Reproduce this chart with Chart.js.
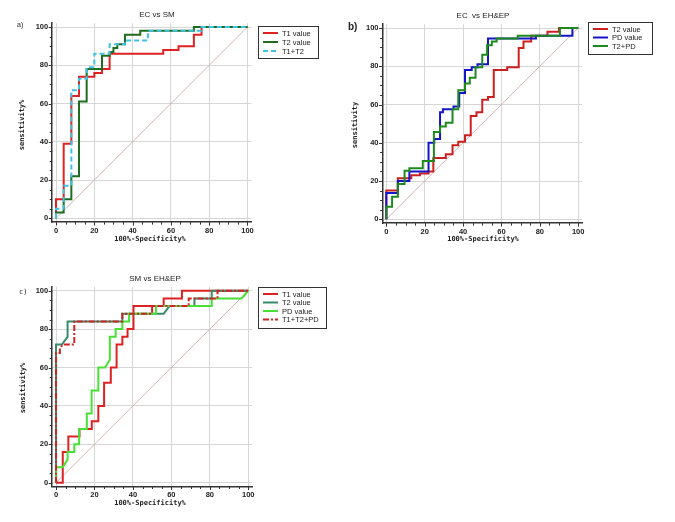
<!DOCTYPE html>
<html><head><meta charset="utf-8">
<script src="https://cdn.jsdelivr.net/npm/chart.js@4/dist/chart.umd.min.js"></script>
<style>
html,body{margin:0;padding:0;background:#fff;width:675px;height:522px;overflow:hidden;}
canvas{position:absolute;}
</style></head><body>
<canvas id="ca" width="340" height="250" style="left:0;top:0"></canvas>
<canvas id="cb" width="335" height="250" style="left:340px;top:0"></canvas>
<canvas id="cc" width="340" height="267" style="left:0;top:255px"></canvas>
<script>
// ---------- shared ----------
const axisTicks = [0, 20, 40, 60, 80, 100];
const diagX = [0, 100];
const diagY = [0, 100];
const xAxisTitle = '100%-Specificity%';

// ---------- panel a: EC vs SM ----------
const aTitle = 'EC vs SM';
const aLabels = ['T1 value', 'T2 value', 'T1+T2'];
const aT1X = [0, 0, 4, 8, 12, 20, 24, 28, 56, 64, 72, 76, 100];
const aT1Y = [0, 10, 39, 64, 74, 76, 78, 86, 88, 90, 96, 100, 100];
const aT2X = [0, 0, 4, 8, 12, 16, 24, 28, 30, 32, 36, 44, 72, 100];
const aT2Y = [0, 3, 10, 22, 61, 78, 85, 87, 89, 91, 96, 98, 100, 100];
const aT12X = [0, 0, 4, 8, 12, 16, 20, 28, 36, 48, 76, 100];
const aT12Y = [0, 5, 17, 67, 73, 79, 86, 91, 93, 98, 100, 100];

// ---------- panel b: EC vs EH&EP ----------
const bTitle = 'EC  vs EH&EP';
const bLabels = ['T2 value', 'PD value', 'T2+PD'];
const bT2X = [0, 0, 6, 13, 17.5, 22, 24.5, 31, 34.5, 37.5, 41, 44, 47, 50, 53, 56, 63, 69, 71.5, 75.5, 84, 90, 100];
const bT2Y = [0, 15, 21.5, 23, 24, 25, 32, 34, 38.7, 40.5, 44, 54, 56, 62.5, 64, 78, 79.5, 89.5, 93, 96, 98, 100, 100];
const bPDX = [0, 0, 6, 12, 22, 25, 28, 29.5, 35, 38, 41, 44.5, 47.5, 53, 78, 97, 100];
const bPDY = [0, 13.8, 20, 25, 40, 42, 56, 57.5, 59, 66, 78, 79.5, 81, 94.5, 96, 100, 100];
const bT2PDX = [0, 0, 3, 6, 9.5, 12, 19, 24.8, 28, 31, 34.5, 37.5, 41, 43.5, 46.5, 50, 52.5, 55, 57.5, 68.5, 90.5, 100];
const bT2PDY = [0, 6.5, 11.8, 18.5, 25.4, 26.7, 30.5, 45.6, 48.5, 50.5, 57.5, 67.5, 71, 74, 79.5, 86, 91, 93, 94.5, 96, 100, 100];

// ---------- panel c: SM vs EH&EP ----------
const cTitle = 'SM vs EH&EP';
const cLabels = ['T1 value', 'T2 value', 'PD value', 'T1+T2+PD'];
const cT1X = [0, 3.5, 6.4, 12.2, 18.6, 22, 25, 28.5, 31.5, 34.5, 37.2, 40.3, 56, 65.5, 100];
const cT1Y = [0, 16, 24, 28, 32, 40, 52, 60, 72, 76, 80, 92, 96, 100, 100];
const cT2X = [0, 0, 3, 6, 6, 34.5, 34.5, 56, 59, 72, 72, 81, 81, 100];
const cT2Y = [0, 72, 72, 76, 84, 84, 88, 88, 92, 92, 96, 96, 100, 100];
const cPDX = [0, 0, 3.5, 6, 6, 9.5, 9.5, 12, 12, 16, 16, 18.5, 18.5, 22, 22, 25.5, 28, 28, 31, 31, 34.5, 34.5, 38, 38, 52, 52, 81, 81, 96.5, 100];
const cPDY = [0, 8, 8, 12, 16, 16, 20, 20, 28, 28, 36, 36, 48, 48, 60, 60, 64, 76, 76, 80, 80, 84, 84, 88, 88, 92, 92, 96, 96, 100];
const cT123X = [0, 0, 2, 2, 3.5, 9.5, 9.5, 34.5, 34.5, 50, 50, 69, 69, 84, 84, 100];
const cT123Y = [0, 67.5, 67.5, 70, 72, 72, 84, 84, 88, 88, 92, 92, 96, 96, 100, 100];

const pts = (xs, ys) => xs.map((v, i) => ({x: v, y: ys[i]}));

function makePanel(id, W, H, area, series, deco) {
  const datasets = series.map(s => ({
    label: s.label,
    data: pts(s.x, s.y),
    borderColor: s.color,
    borderWidth: 2,
    borderDash: s.dash || [],
    stepped: s.stepped ? 'before' : false,
    pointRadius: 0,
    fill: false,
    order: s.order
  }));
  datasets.push({label: '', data: pts(diagX, diagY), borderColor: '#c9a5a5', borderWidth: 0.8, pointRadius: 0, fill: false, order: 99});

  const decoPlugin = {
    id: 'deco_' + id,
    afterDraw(chart) {
      const ctx = chart.ctx;
      const xs = chart.scales.x, ys = chart.scales.y;
      const ca = chart.chartArea;
      ctx.save();
      // minor & major ticks
      ctx.strokeStyle = '#333'; ctx.lineWidth = 1;
      for (let v = 0; v <= 100; v += 5) {
        const len = (v % 20 === 0) ? 3.5 : 2.5;
        const px = Math.round(xs.getPixelForValue(v)) + 0.5;
        ctx.beginPath(); ctx.moveTo(px, ca.bottom); ctx.lineTo(px, ca.bottom + len); ctx.stroke();
        const py = Math.round(ys.getPixelForValue(v)) + 0.5;
        ctx.beginPath(); ctx.moveTo(ca.left, py); ctx.lineTo(ca.left - len, py); ctx.stroke();
      }
      ctx.fillStyle = '#222';
      ctx.textBaseline = 'middle';
      // title
      ctx.font = '8px "Liberation Sans", Arial, sans-serif';
      ctx.textAlign = 'center';
      ctx.fillText(deco.title, deco.titleX, deco.titleY);
      // panel label
      ctx.font = deco.panelFont;
      ctx.textAlign = 'left';
      ctx.fillText(deco.panel, deco.panelX, deco.panelY);
      // x title
      ctx.font = 'bold 7px "DejaVu Sans Mono", monospace';
      ctx.textAlign = 'center';
      ctx.fillText(xAxisTitle, deco.xtX, deco.xtY);
      // y title
      ctx.save();
      ctx.translate(deco.ytX, deco.ytY);
      ctx.rotate(-Math.PI / 2);
      ctx.fillText(deco.yTitle, 0, 0);
      ctx.restore();
      // legend
      const L = deco.legend;
      ctx.strokeStyle = '#333'; ctx.lineWidth = 1;
      ctx.strokeRect(L.x + 0.5, L.y + 0.5, L.w, L.h);
      ctx.font = '7.5px "Liberation Sans", Arial, sans-serif';
      ctx.textAlign = 'left';
      series.forEach((s, i) => {
        const ry = L.y + L.first + i * L.step;
        ctx.save();
        ctx.strokeStyle = s.color; ctx.lineWidth = 2;
        ctx.setLineDash(s.dash || []);
        ctx.beginPath(); ctx.moveTo(L.x + 5, ry); ctx.lineTo(L.x + 20, ry); ctx.stroke();
        ctx.restore();
        ctx.fillStyle = '#222';
        ctx.fillText(s.label, L.x + 24, ry + 0.5);
      });
      ctx.restore();
    }
  };

  const tickFont = {family: '"Liberation Sans", Arial, sans-serif', size: 7.5, weight: 'bold'};
  const common = {
    type: 'linear', min: -2, max: 102,
    afterBuildTicks: s => { s.ticks = axisTicks.map(v => ({value: v})); },
    grid: {color: '#d6d6d6', lineWidth: 1, drawTicks: false},
    border: {color: '#333', width: 1.5},
  };
  new Chart(document.getElementById(id), {
    type: 'line',
    data: {datasets},
    options: {
      responsive: false, animation: false, devicePixelRatio: 1,
      layout: {padding: {left: 0, top: area.top, right: W - area.right, bottom: 0}},
      plugins: {legend: {display: false}, tooltip: {enabled: false}, title: {display: false}},
      scales: {
        x: Object.assign({}, common, {
          afterFit: s => { s.height = H - area.bottom; },
          ticks: {font: tickFont, color: '#222', padding: 4, autoSkip: false, maxRotation: 0}
        }),
        y: Object.assign({}, common, {
          afterFit: s => { s.width = area.left; },
          ticks: {font: tickFont, color: '#222', padding: 4, autoSkip: false}
        })
      }
    },
    plugins: [decoPlugin]
  });
}

// panel a
makePanel('ca', 340, 250, {left: 52.2, right: 251.3, top: 23.2, bottom: 222.1}, [
  {label: aLabels[0], x: aT1X, y: aT1Y, color: '#e02222', stepped: true, order: 3},
  {label: aLabels[1], x: aT2X, y: aT2Y, color: '#1f6b1f', stepped: true, order: 2},
  {label: aLabels[2], x: aT12X, y: aT12Y, color: '#3ec3e3', stepped: true, dash: [5, 3], order: 1}
], {
  title: aTitle, titleX: 157, titleY: 15,
  panel: 'a)', panelX: 17, panelY: 25, panelFont: '7px "Liberation Sans", Arial, sans-serif',
  xtX: 150, xtY: 239, ytX: 22, ytY: 125, yTitle: 'sensitivity%',
  legend: {x: 258, y: 26, w: 60, h: 32, first: 7, step: 9}
});

// panel b
makePanel('cb', 335, 250, {left: 42.5, right: 242, top: 24.2, bottom: 223.1}, [
  {label: bLabels[0], x: bT2X, y: bT2Y, color: '#cc2020', stepped: true, order: 3},
  {label: bLabels[1], x: bPDX, y: bPDY, color: '#1515c8', stepped: true, order: 2},
  {label: bLabels[2], x: bT2PDX, y: bT2PDY, color: '#1e8a1e', stepped: true, order: 1}
], {
  title: bTitle, titleX: 143, titleY: 16,
  panel: 'b)', panelX: 8, panelY: 27, panelFont: 'bold 10px "Liberation Sans", Arial, sans-serif',
  xtX: 143, xtY: 239, ytX: 15, ytY: 125, yTitle: 'sensitivity',
  legend: {x: 248, y: 22, w: 64, h: 32, first: 7, step: 8.5}
});

// panel c
makePanel('cc', 340, 267, {left: 52.2, right: 252.1, top: 31.9, bottom: 231.5}, [
  {label: cLabels[0], x: cT1X, y: cT1Y, color: '#dd2222', stepped: true, order: 4},
  {label: cLabels[1], x: cT2X, y: cT2Y, color: '#3a8a6a', stepped: false, order: 3},
  {label: cLabels[2], x: cPDX, y: cPDY, color: '#48e034', stepped: false, order: 2},
  {label: cLabels[3], x: cT123X, y: cT123Y, color: '#cf2222', stepped: false, dash: [6, 2, 2, 2], order: 1}
], {
  title: cTitle, titleX: 155, titleY: 24,
  panel: 'c)', panelX: 19, panelY: 37, panelFont: '7px "DejaVu Sans Mono", monospace',
  xtX: 150, xtY: 248, ytX: 23, ytY: 133, yTitle: 'sensitivity%',
  legend: {x: 258, y: 32, w: 68, h: 41, first: 7, step: 8.5}
});
</script>
</body></html>
